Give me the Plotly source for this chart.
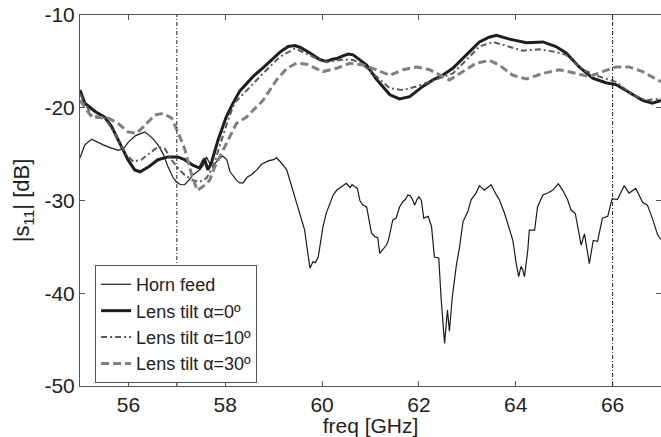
import plotly.graph_objects as go

# Measured |S11| (dB) versus frequency (GHz)
horn_freq = [55.00, 55.10, 55.24, 55.35, 55.48, 55.62, 55.79, 55.90, 56.00, 56.15, 56.34, 56.50,
             56.61, 56.72, 56.82, 56.92, 56.99, 57.08, 57.16, 57.25, 57.33, 57.47, 57.55, 57.61,
             57.68, 57.75, 57.85, 57.95, 58.03, 58.10, 58.23, 58.30, 58.37, 58.45, 58.55, 58.65,
             58.75, 58.90, 59.00, 59.06, 59.15, 59.27, 59.40, 59.54, 59.64, 59.70, 59.75, 59.81,
             59.86, 59.92, 59.97, 60.02, 60.09, 60.16, 60.23, 60.30, 60.40, 60.50, 60.58, 60.62,
             60.67, 60.73, 60.78, 60.84, 60.92, 61.02, 61.09, 61.15, 61.19, 61.25, 61.29, 61.33,
             61.37, 61.43, 61.46, 61.53, 61.60, 61.67, 61.72, 61.77, 61.82, 61.86, 61.91, 61.96,
             62.00, 62.05, 62.10, 62.19, 62.26, 62.32, 62.41, 62.46, 62.53, 62.59, 62.63, 62.69,
             62.77, 62.84, 62.91, 63.01, 63.08, 63.18, 63.25, 63.35, 63.42, 63.49, 63.60, 63.66,
             63.77, 63.86, 63.94, 64.01, 64.06, 64.11, 64.14, 64.18, 64.25, 64.28, 64.39, 64.45,
             64.56, 64.66, 64.76, 64.88, 64.97, 65.07, 65.14, 65.23, 65.30, 65.35, 65.42, 65.52,
             65.60, 65.69, 65.79, 65.90, 65.99, 66.10, 66.24, 66.34, 66.48, 66.62, 66.72, 66.82,
             66.93, 67.00]
horn_s11 = [-25.4, -24.0, -23.4, -23.7, -24.0, -24.3, -24.6, -24.4, -23.7, -23.0, -22.6, -23.3,
            -24.0, -25.0, -26.4, -27.5, -28.0, -28.3, -28.3, -27.8, -27.25, -26.7, -26.2, -25.3,
            -26.0, -26.3, -25.6, -25.2, -25.6, -26.9, -27.8, -28.1, -28.1, -27.5, -27.2, -26.7,
            -26.1, -25.7, -25.6, -25.4, -25.9, -26.7, -28.9, -31.4, -33.2, -35.5, -37.3, -36.6,
            -36.7, -36.1, -34.5, -32.8, -31.3, -30.3, -29.4, -28.9, -28.5, -28.15, -28.6, -28.3,
            -28.5, -28.7, -30.0, -30.5, -30.7, -33.5, -33.9, -34.0, -35.7, -35.3, -35.0, -34.8,
            -34.3, -33.0, -32.1, -31.9, -30.7, -30.1, -29.9, -29.4, -29.5, -29.8, -30.5, -29.9,
            -29.6, -30.0, -31.9, -31.7, -32.8, -36.1, -36.2, -40.7, -45.4, -41.8, -44.1, -40.4,
            -37.1, -35.0, -32.3, -31.2, -29.9, -29.2, -28.4, -28.9, -28.6, -28.3, -29.4, -29.9,
            -31.4, -33.0, -34.3, -36.8, -38.2, -37.1, -37.4, -38.2, -35.3, -33.2, -33.2, -30.7,
            -29.4, -29.2, -28.9, -28.2, -28.9, -29.9, -31.0, -31.4, -33.2, -34.8, -33.6, -36.8,
            -34.3, -34.4, -31.9, -31.7, -29.8, -29.9, -28.4, -29.2, -28.7, -30.2, -30.5, -31.9,
            -33.7, -34.2]

tilt0_freq = [55.00, 55.10, 55.31, 55.51, 55.65, 55.86, 55.99, 56.13, 56.24, 56.41, 56.61, 56.82,
              57.02, 57.16, 57.33, 57.47, 57.57, 57.64, 57.71, 57.85, 58.02, 58.16, 58.30, 58.44,
              58.60, 58.78, 58.95, 59.13, 59.30, 59.44, 59.55, 59.75, 59.95, 60.09, 60.20, 60.30,
              60.43, 60.54, 60.64, 60.74, 60.92, 61.12, 61.30, 61.40, 61.60, 61.81, 62.08, 62.29,
              62.49, 62.70, 62.98, 63.25, 63.45, 63.60, 63.87, 64.22, 64.56, 64.83, 65.04, 65.31,
              65.59, 65.86, 66.07, 66.34, 66.62, 66.82, 67.00]
tilt0_s11 = [-18.1, -19.5, -20.4, -21.0, -22.0, -24.2, -25.6, -26.7, -26.9, -26.4, -25.6, -25.3,
             -25.3, -25.6, -26.2, -26.5, -25.5, -26.7, -26.0, -23.5, -21.0, -19.5, -18.2, -17.4,
             -16.5, -15.7, -14.9, -14.0, -13.4, -13.3, -13.5, -14.1, -14.8, -15.0, -14.8, -14.7,
             -14.4, -14.2, -14.3, -14.7, -15.4, -16.9, -18.0, -18.6, -19.05, -18.8, -17.7, -17.0,
             -16.5, -15.75, -14.3, -12.9, -12.4, -12.2, -12.6, -13.0, -12.9, -13.4, -14.1, -15.6,
             -16.8, -17.3, -17.5, -18.3, -19.2, -19.5, -19.2]

tilt10_freq = [55.00, 55.24, 55.51, 55.72, 55.93, 56.10, 56.27, 56.44, 56.61, 56.75, 56.89, 57.02,
               57.16, 57.33, 57.47, 57.61, 57.75, 57.88, 58.06, 58.19, 58.44, 58.78, 59.13, 59.44,
               59.81, 60.09, 60.43, 60.64, 60.85, 61.12, 61.40, 61.67, 61.95, 62.22, 62.49, 62.70,
               62.98, 63.25, 63.53, 63.80, 64.14, 64.49, 64.83, 65.04, 65.38, 65.73, 66.07, 66.41,
               66.69, 67.00]
tilt10_s11 = [-18.5, -20.8, -21.1, -22.75, -24.9, -25.8, -25.6, -24.9, -24.2, -24.4, -25.6, -26.5,
              -27.25, -27.8, -28.0, -27.6, -26.4, -24.2, -21.3, -19.5, -18.1, -16.3, -14.5, -13.6,
              -14.5, -15.1, -14.8, -14.85, -15.4, -16.65, -17.9, -18.1, -17.7, -17.2, -16.7, -16.3,
              -14.85, -13.4, -12.9, -13.3, -13.85, -13.7, -14.0, -14.3, -15.9, -16.65, -17.2, -18.6,
              -19.2, -19.0]

tilt30_freq = [55.00, 55.24, 55.58, 55.79, 55.99, 56.17, 56.34, 56.54, 56.72, 56.89, 57.02, 57.16,
               57.30, 57.42, 57.54, 57.68, 57.78, 57.92, 58.09, 58.23, 58.44, 58.78, 59.06, 59.27,
               59.47, 59.68, 60.02, 60.30, 60.57, 60.85, 61.12, 61.40, 61.67, 61.95, 62.22, 62.49,
               62.63, 62.91, 63.18, 63.46, 63.66, 63.94, 64.22, 64.56, 64.90, 65.25, 65.52, 65.79,
               66.07, 66.34, 66.62, 67.00]
tilt30_s11 = [-19.2, -21.0, -21.1, -21.7, -22.6, -22.75, -21.9, -20.8, -20.6, -21.1, -22.6, -24.4,
              -27.1, -28.9, -28.5, -27.8, -26.4, -24.9, -23.1, -21.7, -21.0, -19.2, -17.0, -15.75,
              -15.2, -15.3, -16.1, -15.75, -15.2, -15.4, -15.9, -16.5, -15.9, -15.6, -15.9, -16.65,
              -17.0, -16.1, -15.2, -14.9, -15.4, -16.5, -16.9, -16.3, -15.9, -16.3, -16.65, -16.1,
              -15.6, -15.6, -16.1, -17.2]

# Band edges marked with vertical lines (GHz)
band_edges = [57, 66]

x_ticks = [56, 58, 60, 62, 64, 66]
y_ticks = [-50, -40, -30, -20, -10]
y_tick_labels = ["-50", "-40", "-30", "-20", "-10"]

FONT = "Liberation Sans, Arial, sans-serif"

fig = go.Figure()

fig.add_trace(go.Scatter(x=horn_freq, y=horn_s11, mode="lines", name="Horn feed",
                         line=dict(color="#1a1a1a", width=1.2)))
fig.add_trace(go.Scatter(x=tilt0_freq, y=tilt0_s11, mode="lines", name="Lens tilt α=0º",
                         line=dict(color="#1e1e1e", width=3)))
fig.add_trace(go.Scatter(x=tilt10_freq, y=tilt10_s11, mode="lines", name="Lens tilt α=10º",
                         line=dict(color="#5a5a5a", width=2, dash="6px,3px,2px,3px")))
fig.add_trace(go.Scatter(x=tilt30_freq, y=tilt30_s11, mode="lines", name="Lens tilt α=30º",
                         line=dict(color="#808080", width=3, dash="8px,4px")))

for xe in band_edges:
    fig.add_shape(type="line", xref="x", yref="paper", x0=xe, x1=xe, y0=0, y1=1,
                  line=dict(color="#222222", width=1, dash="4px,2px,1px,2px"))

fig.update_layout(
    width=661, height=437,
    margin=dict(l=80, r=0, t=15, b=51),
    paper_bgcolor="white", plot_bgcolor="white",
    font=dict(family=FONT, color="#222222"),
    showlegend=True,
    legend=dict(x=0.026, y=0.326, xanchor="left", yanchor="top",
                bgcolor="white", bordercolor="#555555", borderwidth=1,
                font=dict(size=18, family=FONT, color="#222222"),
                itemwidth=30, tracegroupgap=0),
    xaxis=dict(range=[55, 67], tickvals=x_ticks, ticks="inside", ticklen=5,
               tickcolor="#555555", showline=True, linecolor="#555555", linewidth=1,
               mirror="ticks", showgrid=False, zeroline=False,
               tickfont=dict(size=21, family=FONT, color="#222222"),
               title=dict(text="freq [GHz]", standoff=0,
                          font=dict(size=21, family=FONT, color="#222222"))),
    yaxis=dict(range=[-50, -10], tickvals=y_ticks, ticktext=y_tick_labels,
               ticks="inside", ticklen=5,
               tickcolor="#555555", showline=True, linecolor="#555555", linewidth=1,
               mirror="ticks", showgrid=False, zeroline=False,
               tickfont=dict(size=21, family=FONT, color="#222222"),
               title=dict(text="|s<sub>11</sub>| [dB]", standoff=8,
                          font=dict(size=22, family=FONT, color="#222222"))),
)

fig.write_html("out.html")
